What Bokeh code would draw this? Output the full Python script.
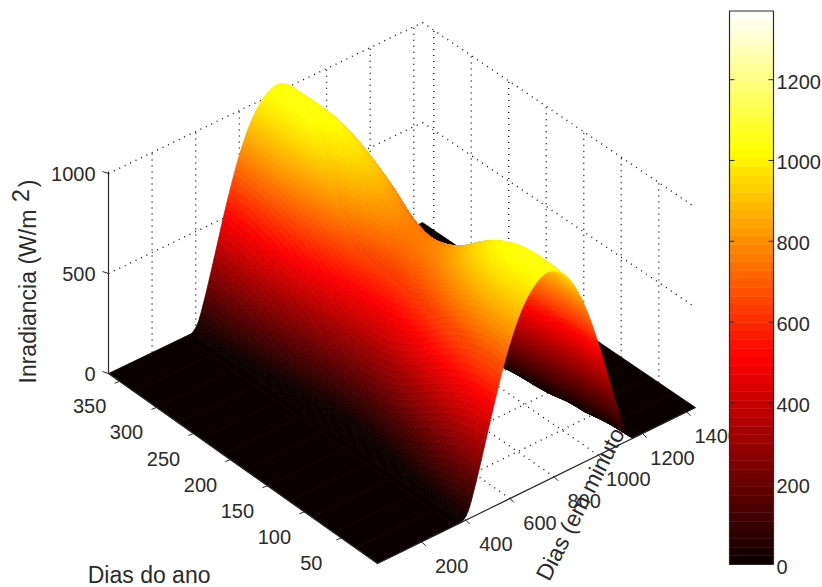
from bokeh.plotting import figure
from bokeh.models import ColumnDataSource
from bokeh.core.properties import value
from bokeh.embed import file_html
from bokeh.resources import INLINE
import math

# ---------- data ----------
minutes = [0, 350, 380, 410, 440, 470, 500, 530, 560, 590, 620, 650, 680, 710, 740, 770,
           800, 830, 860, 890, 920, 950, 980, 1010, 1040, 1070, 1100, 1130, 1160, 1190, 1440]
days = [1, 30, 60, 90, 120, 150, 180, 210, 240, 270, 300, 330, 365]
d001 = [0,0,0,38,140,262,390,518,637,745,835,910,965,1005,1030,1040,1030,1005,965,910,835,745,637,518,390,262,140,38,0,0,0]
d030 = [0,0,0,26,124,248,378,508,633,744,838,916,972,1013,1040,1050,1040,1013,972,916,838,744,633,508,378,248,124,26,0,0,0]
d060 = [0,0,0,0,75,192,323,455,585,700,802,885,947,991,1019,1030,1019,991,947,885,802,700,585,455,323,192,75,0,0,0,0]
d090 = [0,0,0,0,19,119,244,375,504,623,725,808,874,920,949,960,949,920,874,808,725,623,504,375,244,119,19,0,0,0,0]
d120 = [0,0,0,0,0,65,167,290,413,528,629,712,776,821,850,860,850,821,776,712,629,528,413,290,167,65,0,0,0,0,0]
d150 = [0,0,0,0,0,24,117,232,350,466,563,647,710,756,783,793,783,756,710,647,563,466,350,232,117,24,0,0,0,0,0]
d180 = [0,0,0,0,0,11,100,210,330,441,541,626,690,735,762,772,762,735,690,626,541,441,330,210,100,11,0,0,0,0,0]
d210 = [0,0,0,0,0,25,121,240,362,482,583,668,734,781,810,820,810,781,734,668,583,482,362,240,121,25,0,0,0,0,0]
d240 = [0,0,0,0,0,69,179,310,442,565,673,761,830,879,909,920,909,879,830,761,673,565,442,310,179,69,0,0,0,0,0]
d270 = [0,0,0,0,20,123,253,389,522,645,751,837,905,953,984,995,984,953,905,837,751,645,522,389,253,123,20,0,0,0,0]
d300 = [0,0,0,0,76,193,327,460,591,707,810,893,956,1000,1029,1040,1029,1000,956,893,810,707,591,460,327,193,76,0,0,0,0]
d330 = [0,0,0,26,123,247,376,505,630,740,834,911,967,1008,1035,1045,1035,1008,967,911,834,740,630,505,376,247,123,26,0,0,0]
d365 = [0,0,0,38,140,262,390,518,637,745,835,910,965,1005,1030,1040,1030,1005,965,910,835,745,637,518,390,262,140,38,0,0,0]
irradiance = [d001, d030, d060, d090, d120, d150, d180, d210, d240, d270, d300, d330, d365]

day_ticks = [50, 100, 150, 200, 250, 300, 350]
minute_ticks = [200, 400, 600, 800, 1000, 1200, 1400]
z_ticks = [0, 500, 1000]
bar_ticks = [0, 200, 400, 600, 800, 1000, 1200]
bar_max = 1370
minute_max = 1440

# ---------- projection of the 3D view ----------
def project(day, minute, z):
    u = minute / minute_max
    v = (day - 1) / 364
    x = 377 + 318 * u - 269 * v - 4 * u * v
    y = 563 - 156 * u - 190 * v + 5 * u * v
    return x, y - 0.2 * z

def hot(t):
    t = max(0.0, min(1.0, t))
    r = min(1.0, t / 0.375)
    g = max(0.0, min(1.0, (t - 0.375) / 0.375))
    b = max(0.0, min(1.0, (t - 0.75) / 0.25))
    return "#%02x%02x%02x" % (int(round(10 + 245 * r)), int(round(255 * g)), int(round(255 * b)))

def cr(p0, p1, p2, p3, t):
    # Catmull-Rom shading between two table values
    return 0.5 * (2 * p1 + (p2 - p0) * t + (2 * p0 - 5 * p1 + 4 * p2 - p3) * t * t + (3 * p1 - p0 - 3 * p2 + p3) * t * t * t)

def shade(i, j, fs, ft):
    ni, nj = len(days) - 1, len(minutes) - 1
    rows = []
    for ii in (max(i - 1, 0), i, i + 1, min(i + 2, ni)):
        r = irradiance[ii]
        rows.append(cr(r[max(j - 1, 0)], r[j], r[j + 1], r[min(j + 2, nj)], ft))
    return max(0.0, cr(rows[0], rows[1], rows[2], rows[3], fs))

p = figure(width=822, height=587, x_range=(0, 822), y_range=(587, 0),
           output_backend="svg", toolbar_location=None, min_border=0)
p.axis.visible = False
p.grid.visible = False
p.outline_line_color = None
p.background_fill_color = "white"

# ---------- dotted grid ----------
gx, gy = [], []
def gridline(a, b):
    xa, ya = project(*a)
    xb, yb = project(*b)
    gx.append([xa, xb])
    gy.append([ya, yb])
D0, D1 = days[0], days[-1]
M1 = minutes[-1]
for m in minute_ticks:
    gridline((D1, m, 0), (D1, m, 1000))
    gridline((D0, m, 0), (D1, m, 0))
for d in day_ticks:
    gridline((d, M1, 0), (d, M1, 1000))
    gridline((d, 0, 0), (d, M1, 0))
for z in z_ticks[1:]:
    gridline((D1, 0, z), (D1, M1, z))
    gridline((D1, M1, z), (D0, M1, z))
p.multi_line(gx, gy, line_color="#111111", line_width=1.4, line_dash="1 5")

ink = "#2b2b2b"
NUM = value("Liberation Sans")
LAB = value("Liberation Sans")
NS = value("20px")
LS = value("23px")

# the title runs behind the surface
p.text([584], [495], text=["Dias (em minutos)"], angle=math.radians(63), text_align="center",
       text_baseline="middle", text_font=LAB, text_font_size=LS, text_color=ink)

# ---------- surface (interpolated shading, far cells first) ----------
xs, ys, cols = [], [], []
SUBD, SUBM = 14, 4
for i in range(len(days) - 2, -1, -1):
    for j in range(len(minutes) - 2, -1, -1):
        c = (irradiance[i][j], irradiance[i][j + 1], irradiance[i + 1][j], irradiance[i + 1][j + 1])
        flat = max(c) == 0 and (j < 2 or j > len(minutes) - 4)
        nd, nm = (1, 1) if flat else (SUBD, SUBM)
        for a in range(nd - 1, -1, -1):
            for b in range(nm - 1, -1, -1):
                quad = [(a, b), (a, b + 1), (a + 1, b + 1), (a + 1, b)]
                px, py, zs = [], [], []
                for s, t in quad:
                    fs, ft = s / nd, t / nm
                    zv = 0.0 if flat else shade(i, j, fs, ft)
                    dd = days[i] + fs * (days[i + 1] - days[i])
                    mm = minutes[j] + ft * (minutes[j + 1] - minutes[j])
                    x, y = project(dd, mm, zv)
                    px.append(x); py.append(y); zs.append(zv)
                xs.append(px); ys.append(py)
                cols.append(hot(sum(zs) / 4 / bar_max))
p.patches(xs="xs", ys="ys", fill_color="cols", line_color="cols", line_width=0.7,
          source=ColumnDataSource(dict(xs=xs, ys=ys, cols=cols)))

# ---------- axes ----------
def axis_line(a, b):
    xa, ya = project(*a)
    xb, yb = project(*b)
    p.line([xa, xb], [ya, yb], line_color=ink, line_width=1.2)
axis_line((D1, 0, 0), (D1, 0, 1010))
axis_line((D0, 0, 0), (D0, M1, 0))
axis_line((D0, 0, 0), (D1, 0, 0))

tx, ty = zip(*[project(d, 0, 0) for d in day_ticks])
p.segment(tx, ty, [v - 5 for v in tx], [v + 2 for v in ty], line_color=ink)
p.text(tx, ty, text=[str(d) for d in day_ticks], x_offset=-30, y_offset=25, text_align="center",
       text_baseline="middle", text_font=NUM, text_font_size=NS, text_color=ink)
tx, ty = zip(*[project(D0, m, 0) for m in minute_ticks])
p.segment(tx, ty, [v + 4 for v in tx], [v + 4 for v in ty], line_color=ink)
p.text(tx, ty, text=[str(m) for m in minute_ticks], x_offset=30, y_offset=24, text_align="center",
       text_baseline="middle", text_font=NUM, text_font_size=NS, text_color=ink)
tx, ty = zip(*[project(D1, 0, z) for z in z_ticks])
p.segment(tx, ty, [v - 6 for v in tx], [v - 2 for v in ty], line_color=ink)
p.text(tx, ty, text=[str(z) for z in z_ticks], x_offset=-13, y_offset=0, text_align="right",
       text_baseline="middle", text_font=NUM, text_font_size=NS, text_color=ink)

# ---------- axis titles ----------
p.text([148.6], [574], text=["Dias do ano"], text_align="center", text_baseline="middle",
       text_font=LAB, text_font_size=LS, text_color=ink)
p.text([27], [383], text=["Inradiancia (W/m"], angle=math.pi / 2, text_align="left",
       text_baseline="middle", text_font=LAB, text_font_size=LS, text_color=ink)
p.text([20], [195], text=["2"], angle=math.pi / 2, text_align="center",
       text_baseline="middle", text_font=LAB, text_font_size=LS, text_color=ink)
p.text([27], [183], text=[")"], angle=math.pi / 2, text_align="center",
       text_baseline="middle", text_font=LAB, text_font_size=LS, text_color=ink)

# ---------- colour bar ----------
BX0, BX1, BY0, BY1 = 729, 773, 564, 10.5
def bar_y(val):
    return BY0 + (BY1 - BY0) * val / bar_max
levels = 64
bt, bb, bc = [], [], []
for k in range(levels):
    bb.append(bar_y(bar_max * k / levels))
    bt.append(bar_y(bar_max * (k + 1) / levels))
    bc.append(hot((k + 0.5) / levels))
p.quad(left=BX0, right=BX1, top=bt, bottom=bb, fill_color=bc, line_color=bc, line_width=0.5)
p.quad(left=[BX0], right=[BX1], top=[BY1], bottom=[BY0], fill_alpha=0, line_color=ink, line_width=1.2)
ty = [bar_y(v) for v in bar_ticks]
p.segment([BX0] * len(ty), ty, [BX0 + 5] * len(ty), ty, line_color=ink)
p.segment([BX1] * len(ty), ty, [BX1 - 5] * len(ty), ty, line_color=ink)
p.text([BX1 + 3] * len(ty), ty, text=[str(v) for v in bar_ticks], y_offset=2, text_align="left",
       text_baseline="middle", text_font=NUM, text_font_size=NS, text_color=ink)

open("out.html", "w").write(file_html(p, INLINE))
